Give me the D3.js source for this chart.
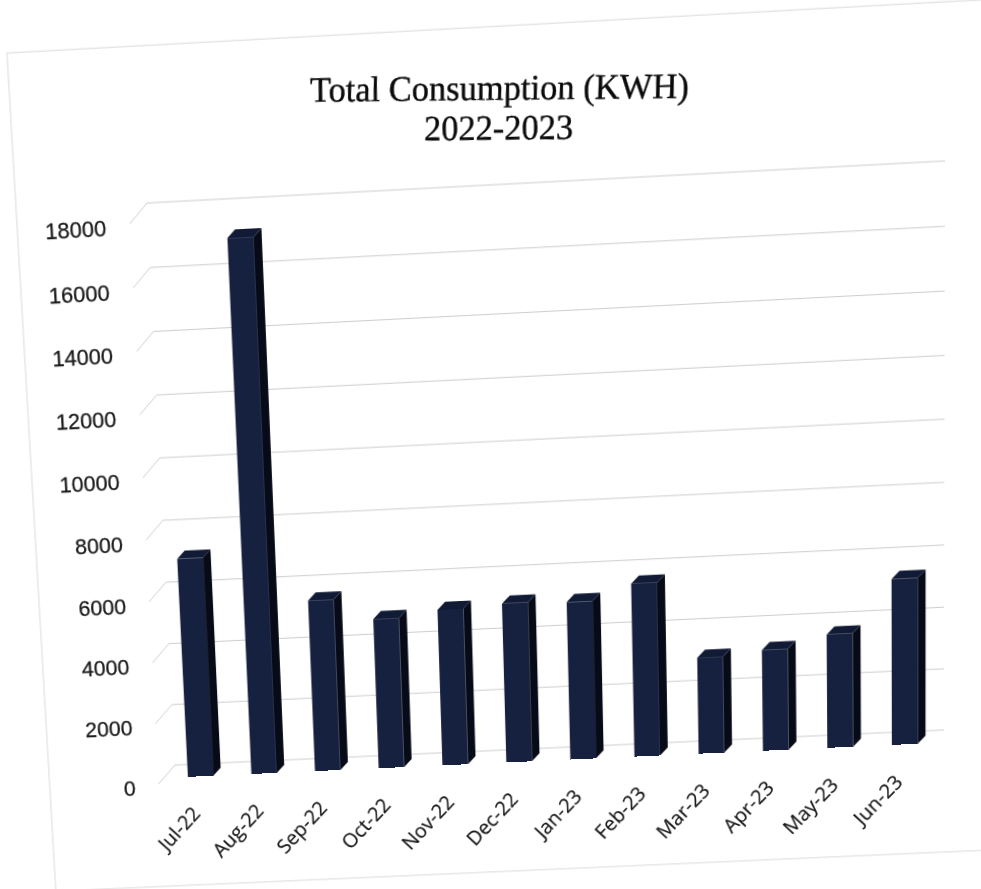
<!DOCTYPE html>
<html><head><meta charset="utf-8">
<script src="https://cdn.jsdelivr.net/npm/d3@7"></script>
<style>
html,body{margin:0;padding:0;background:#fff;overflow:hidden;width:981px;height:889px}
svg{display:block;position:absolute;left:0;top:0;transform-origin:0 0;overflow:visible}
</style></head><body>
<svg id="c" width="981" height="889"></svg>
<script>
// ---------------- data ----------------
const months = ["Jul-22","Aug-22","Sep-22","Oct-22","Nov-22","Dec-22","Jan-23","Feb-23","Mar-23","Apr-23","May-23","Jun-23"];
const consumption = [7150,17200,5600,4900,5100,5200,5150,5650,3150,3300,3700,5400];
const yTicks = [0,2000,4000,6000,8000,10000,12000,14000,16000,18000];
const titleLines = ["Total Consumption (KWH)","2022-2023"];

// ---------------- layout (flat chart frame) ----------------
const wall = {x0:160, x1:950, yTop:185, yBot:750};   // back wall
const sideWall = {dx:-18, dy:19};                    // front-left offset of the side wall
const barOff = {dx:-7, dy:13};                       // bar front plane vs wall
const barDepth = {dx:8, dy:-8};
const colors = {front:"#16213f", side:"#070b17", top:"#121b35", grid:"#cdcdcd"};

const svg = d3.select("#c");
const x = d3.scaleBand().domain(months).range([wall.x0, wall.x1]).paddingInner(0.6).paddingOuter(0.3);
const y = d3.scaleLinear().domain([0,18000]).range([wall.yBot, wall.yTop]);

// photo-like perspective: map wall corners to where they sit in the picture
const src = [[wall.x0,wall.yTop],[wall.x1,wall.yTop],[wall.x1,wall.yBot],[wall.x0,wall.yBot]];
const dst = [[147,203],[945,161],[944,730],[175,765]];
function solve(A,b){
  const n=b.length; A=A.map((r,i)=>r.concat([b[i]]));
  for(let i=0;i<n;i++){
    let p=i; for(let k=i+1;k<n;k++) if(Math.abs(A[k][i])>Math.abs(A[p][i])) p=k;
    [A[i],A[p]]=[A[p],A[i]];
    for(let k=0;k<n;k++){ if(k===i) continue; const f=A[k][i]/A[i][i]; for(let j=i;j<=n;j++) A[k][j]-=f*A[i][j]; }
  }
  return A.map((r,i)=>r[n]/r[i]);
}
const M=[],B=[];
src.forEach(([sx,sy],i)=>{const [dx,dy]=dst[i];
  M.push([sx,sy,1,0,0,0,-sx*dx,-sy*dx]); B.push(dx);
  M.push([0,0,0,sx,sy,1,-sx*dy,-sy*dy]); B.push(dy);});
const h = solve(M,B);
document.getElementById("c").style.transform =
  `matrix3d(${h[0]},${h[3]},0,${h[6]},${h[1]},${h[4]},0,${h[7]},0,0,1,0,${h[2]},${h[5]},0,1)`;
// inverse mapping (picture -> flat frame) for the chart-area border
function inv(px,py){
  const a=h[0],b=h[1],c=h[2],d=h[3],e=h[4],f=h[5],g=h[6],k=h[7];
  const A=[[a-g*px,b-k*px],[d-g*py,e-k*py]], r=[px-c,py-f];
  const det=A[0][0]*A[1][1]-A[0][1]*A[1][0];
  return [(r[0]*A[1][1]-A[0][1]*r[1])/det,(A[0][0]*r[1]-r[0]*A[1][0])/det];
}
const bTL=inv(7,53), bBL=inv(150,887);
svg.append("rect").attr("x",bTL[0]).attr("y",bTL[1]).attr("width",1100).attr("height",bBL[1]-bTL[1])
  .attr("fill","#fff").attr("stroke","#dadada").attr("stroke-width",1);

// title
const title = svg.append("text").attr("text-anchor","middle")
  .attr("transform","rotate(2.4,512,120)")
  .attr("font-family","'Liberation Serif','Times New Roman',serif").attr("font-size",34)
  .attr("fill","#0a0a0a").attr("stroke","#0a0a0a").attr("stroke-width",0.35);
titleLines.forEach((t,i)=>title.append("tspan").attr("x",512).attr("y",104+i*38).text(t));

// gridlines (side wall diagonal + back wall)
svg.append("g").selectAll("path").data(yTicks).join("path")
  .attr("d",t=>`M${wall.x0+sideWall.dx},${y(t)+sideWall.dy}L${wall.x0},${y(t)}L${wall.x1},${y(t)}`)
  .attr("fill","none").attr("stroke",colors.grid).attr("stroke-width",1);

// y labels
svg.append("g").selectAll("text").data(yTicks).join("text")
  .attr("x",wall.x0+sideWall.dx-24).attr("y",t=>y(t)+sideWall.dy+3).attr("dy","0.36em")
  .attr("text-anchor","end").attr("font-family","'Liberation Sans',Arial,sans-serif")
  .attr("font-size",22).attr("fill","#1a1a1a").attr("stroke","#1a1a1a").attr("stroke-width",0.3).text(t=>t);

// bars
const bars = svg.append("g").selectAll("g").data(months.map((m,i)=>({m,v:consumption[i]}))).join("g");
const bw = x.bandwidth();
const geo = d=>{const x0=x(d.m)+barOff.dx, x1=x0+bw, yb=y(0)+barOff.dy, yt=y(d.v)+barOff.dy; return {x0,x1,yb,yt};};
bars.append("path").attr("fill",colors.side).attr("d",d=>{const g=geo(d);
  return `M${g.x1},${g.yt}L${g.x1+barDepth.dx},${g.yt+barDepth.dy}L${g.x1+barDepth.dx},${g.yb+barDepth.dy}L${g.x1},${g.yb}Z`;});
bars.append("path").attr("fill",colors.top).attr("d",d=>{const g=geo(d);
  return `M${g.x0},${g.yt}L${g.x0+barDepth.dx},${g.yt+barDepth.dy}L${g.x1+barDepth.dx},${g.yt+barDepth.dy}L${g.x1},${g.yt}Z`;});
bars.append("rect").attr("fill",colors.front)
  .attr("x",d=>geo(d).x0).attr("y",d=>geo(d).yt).attr("width",bw).attr("height",d=>geo(d).yb-geo(d).yt);

// x labels
svg.append("g").selectAll("text").data(months).join("text")
  .attr("transform",m=>`translate(${x(m)+barOff.dx+bw/2-1},${y(0)+barOff.dy+40}) rotate(-45)`)
  .attr("text-anchor","end").attr("font-family","'Open Sans',Lato,sans-serif")
  .attr("font-size",20.5).attr("fill","#1a1a1a").attr("stroke","#1a1a1a").attr("stroke-width",0.2).text(m=>m);
</script>
</body></html>
